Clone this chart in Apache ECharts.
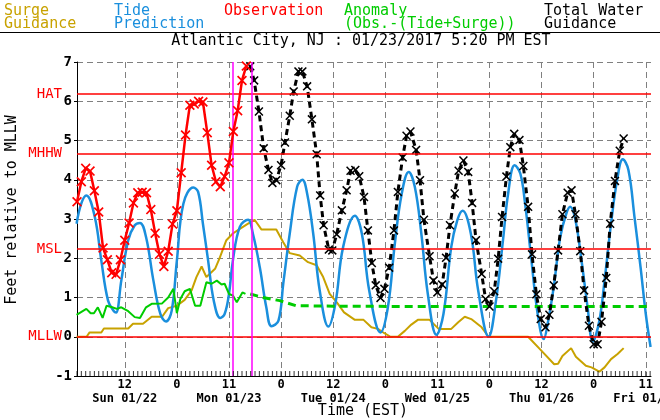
<!DOCTYPE html>
<html><head><meta charset="utf-8">
<script src="https://cdn.jsdelivr.net/npm/echarts@6/dist/echarts.min.js"></script>
<style>html,body{margin:0;padding:0;background:#fff}#c{width:660px;height:420px}</style>
</head><body><div id="c"></div>
<script>
const FONT = '"DejaVu Sans Mono", "Liberation Mono", monospace';

// x axis (hours since Sun 01/22 00:00 EST)
const tickHours = [12, 24, 36, 48, 60, 72, 84, 96, 108, 120, 132];
const tickLabels = ['12', '0', '11', '0', '12', '0', '11', '0', '12', '0', '11'];
const dayHours = [12, 36, 60, 84, 108, 132];
const dayLabels = ['Sun 01/22', 'Mon 01/23', 'Tue 01/24', 'Wed 01/25', 'Thu 01/26', 'Fri 01/27'];
const hourTickMarks = Array.from({length: 133}, (_, i) => i + 1); // hourly minor ticks

// datums
const datumNames = ['HAT', 'MHHW', 'MSL', 'MLLW'];
const datumValues = [6.18, 4.67, 2.23, 0];
const nowLines = [36.9, 41.33];

// Surge guidance
const surgeHours = [0.9,3.2,3.9,6.6,7.2,12.8,13.9,16.2,18.2,20.6,22,24,25.8,27.4,28.5,29.7,30.8,32.8,33.8,35.4,36.9,38.5,40.4,41.9,43.5,46.9,48.5,50,52.3,54.2,56.2,57.7,59.2,60.8,62.5,65,67,68.8,70.3,71.8,73.2,74.9,76.5,78,79.5,82.2,84.3,87.2,88.8,90.3,91.8,94.2,95.8,104.9,108,110.9,111.8,112.8,114.8,115.9,118.2,119.5,121.3,122.5,124,125.5,126.9];
const surgeValues = [0,0,0.11,0.11,0.21,0.21,0.33,0.33,0.51,0.51,0.73,0.79,0.94,1.18,1.52,1.79,1.52,1.73,1.99,2.46,2.63,2.75,2.88,2.98,2.73,2.73,2.41,2.13,2.07,1.9,1.82,1.52,1.09,0.88,0.62,0.43,0.43,0.24,0.2,0.09,0,0,0.15,0.31,0.43,0.43,0.2,0.2,0.37,0.51,0.45,0.24,0,0,-0.36,-0.7,-0.69,-0.49,-0.29,-0.51,-0.74,-0.78,-0.89,-0.78,-0.57,-0.44,-0.29];

// Tide prediction
const tideHours = [0.9,2.0,3.15,5.1,6.6,8.15,9.5,10,11.2,12.8,14.3,15.5,16.9,18.6,20.2,21.5,22.8,24,25.5,27.8,28.9,30,31.2,32.5,34,35,36,36.9,38.5,40.4,41.5,43.1,44.6,45.8,47.4,48.5,50,51.7,52.9,54,55.4,56.9,58.9,60.5,62.3,65,66.6,68.3,70.9,72.6,74.2,75.8,77.4,78.8,80.3,81.8,83.8,85.4,87.2,88.6,89.8,91.7,93.4,95.8,97.5,99.1,100.3,101.8,103.1,104.2,105.5,107.1,108.5,109.4,110.8,112.3,113.7,114.6,115.8,117.2,118.6,119.8,121.3,122.5,124,125.4,126.7,128,129.4,130.8,132,133.1];
const tideValues = [2.88,3.4,3.6,3.05,1.94,0.92,0.65,0.62,1.43,2.46,2.84,2.9,2.54,1.43,0.58,0.39,0.66,1.94,3.39,3.8,3.69,2.88,1.94,0.92,0.48,0.58,1.09,1.94,2.8,2.98,2.63,1.77,0.75,0.27,0.41,1.35,2.63,3.82,4.0,3.65,2.63,1.18,0.26,0.84,2.29,3.08,2.63,1.18,0.11,0.75,2.37,3.65,4.2,3.82,2.63,1.09,0.05,0.58,2.29,2.97,3.21,2.63,1.18,0.0,0.92,2.45,3.65,4.37,4.16,3.39,2.12,0.58,-0.06,0.33,1.27,2.54,3.14,3.31,2.97,1.94,0.75,-0.12,0.41,1.43,2.88,3.99,4.52,4.25,3.05,1.77,0.58,-0.26];

// Observation
const obsHours = [1,2,3,4,5,6,7,8,9,10,11,12,13,14,15,16,17,18,19,20,21,22,23,24,25,26,27,28,29,30,31,32,33,34,35,36,37,38,39,40];
const obsValues = [3.44,3.95,4.29,4.22,3.72,3.18,2.26,1.96,1.63,1.59,1.96,2.46,2.9,3.41,3.67,3.68,3.67,3.24,2.64,2.1,1.79,2.18,2.87,3.21,4.18,5.14,5.9,5.93,6.0,5.98,5.2,4.37,3.95,3.82,4.08,4.43,5.23,5.76,6.53,6.9];

// Anomaly (observed) and anomaly (forecast)
const anomHours = [0.9,3.15,4.15,4.9,5.8,6.9,7.8,9.1,10.2,11.2,12.8,14.3,15.5,16.9,18.2,20.6,22,23.2,24,24.8,25.8,27,28.2,29.4,30.8,32,33.2,34.3,35,36,36.9,37.8,39.1,39.8];
const anomValues = [0.56,0.71,0.6,0.6,0.75,0.48,0.79,0.75,0.71,0.75,0.65,0.5,0.48,0.75,0.84,0.85,1.0,1.22,0.6,0.96,1.16,1.22,0.79,0.79,1.39,1.35,1.43,1.33,1.35,1.09,1.05,0.88,1.13,1.09];
const anomFcstHours = [40.9,43.8,47.7,51.5,60,80,100,120,133.2];
const anomFcstValues = [1.09,1.0,0.92,0.79,0.78,0.77,0.77,0.77,0.77];

// Total water guidance
const twHours = [40.9,41.8,42.9,44,45.1,46,46.9,48,48.9,50,50.9,52,52.9,54,55.1,56.2,57,57.8,59,59.8,60.8,62,63.1,64,65.1,66,67.1,68,68.9,69.8,70.9,71.8,72.9,74,74.9,76,76.9,77.8,79.1,80,80.9,82.2,83.1,84,85.1,86,86.9,88,88.9,90,91.1,92,92.9,94.2,95.1,96,97.1,98,98.9,99.9,100.8,101.7,102.9,103.8,104.9,105.8,106.8,107.8,108.9,109.8,110.8,111.8,112.8,114,114.9,115.8,116.9,117.8,118.9,120,120.9,121.8,122.9,123.8,124.9,126,126.9];
const twValues = [6.89,6.53,5.74,4.8,4.25,3.92,3.99,4.37,4.95,5.63,6.25,6.76,6.76,6.38,5.54,4.65,3.6,2.84,2.22,2.2,2.61,3.22,3.73,4.23,4.25,4.09,3.56,2.71,1.88,1.31,0.99,1.22,1.76,2.71,3.69,4.57,5.12,5.23,4.76,3.99,2.98,2.05,1.43,1.13,1.33,2.01,2.84,3.65,4.23,4.49,4.2,3.41,2.46,1.6,0.96,0.77,1.16,1.99,3.05,4.08,4.83,5.17,5.01,4.35,3.31,2.1,1.08,0.45,0.24,0.56,1.31,2.2,3.12,3.67,3.73,3.12,2.18,1.18,0.28,-0.19,-0.19,0.38,1.5,2.88,3.97,4.74,5.05];

const zip = (a, b) => a.map((x, i) => [x, b[i]]);
const XSYM = 'path://M0,1.2L1.2,0L5,3.8L8.8,0L10,1.2L6.2,5L10,8.8L8.8,10L5,6.2L1.2,10L0,8.8L3.8,5Z';

const GOLD = '#C8A200', BLUE = '#1A8FDD', RED = '#FF0000', GREEN = '#00CC00';
const Y_MIN = -1, Y_MAX = 7;

const chart = echarts.init(document.getElementById('c'), null, {renderer: 'canvas'});

const datumLines = datumNames.map((n, i) => ({
  yAxis: datumValues[i],
  lineStyle: {color: RED, width: 1.5, type: 'solid'},
  label: {show: true, position: 'start', distance: 15, formatter: n, color: RED, fontFamily: FONT, fontSize: 14}
}));
const magentaLines = nowLines.map(h => ({
  xAxis: h,
  lineStyle: {color: '#FF00FF', width: 1.5, type: 'solid'},
  label: {show: false}
}));

chart.setOption({
  animation: false,
  backgroundColor: '#fff',
  grid: {left: 77, right: 9, top: 62, bottom: 44, containLabel: false, outerBoundsMode: 'none'},
  xAxis: {
    type: 'value', min: 1, max: 133.2, interval: 12, position: 'bottom',
    axisLine: {show: true, onZero: false, lineStyle: {color: '#000', width: 1}},
    axisTick: {show: false, customValues: tickHours},
    axisLabel: {
      customValues: tickHours, margin: 2,
      formatter: v => {
        const i = tickHours.indexOf(v);
        const d = dayHours.indexOf(v);
        return '{h|' + tickLabels[i] + '}' + (d >= 0 ? '\n{d|' + dayLabels[d] + '}' : '\n{d| }');
      },
      rich: {
        h: {fontFamily: FONT, fontSize: 12, fontWeight: 'bold', color: '#000', lineHeight: 14},
        d: {fontFamily: FONT, fontSize: 12, fontWeight: 'bold', color: '#000', lineHeight: 14}
      }
    },
    splitLine: {show: true, lineStyle: {color: '#808080', type: [6, 4], width: 1}}
  },
  yAxis: {
    type: 'value', min: Y_MIN, max: Y_MAX, interval: 1,
    axisLine: {show: true, lineStyle: {color: '#000', width: 1}},
    axisTick: {show: true, length: 3, lineStyle: {color: '#000'}},
    axisLabel: {fontFamily: FONT, fontSize: 14, fontWeight: 'bold', color: '#000', margin: 5},
    splitLine: {show: true, lineStyle: {color: '#808080', type: [6, 4], width: 1}}
  },
  graphic: [
    {type: 'line', shape: {x1: 0, y1: 32.5, x2: 660, y2: 32.5}, style: {stroke: '#000', lineWidth: 1}},
    {type: 'text', x: 4, y: 5, style: {text: 'Surge\nGuidance', fill: GOLD, font: '15px ' + FONT, lineHeight: 13, verticalAlign: 'top'}},
    {type: 'text', x: 114, y: 5, style: {text: 'Tide\nPrediction', fill: BLUE, font: '15px ' + FONT, lineHeight: 13, verticalAlign: 'top'}},
    {type: 'text', x: 224, y: 5, style: {text: 'Observation', fill: RED, font: '15px ' + FONT, lineHeight: 13, verticalAlign: 'top'}},
    {type: 'text', x: 344, y: 5, style: {text: 'Anomaly\n(Obs.-(Tide+Surge))', fill: GREEN, font: '15px ' + FONT, lineHeight: 13, verticalAlign: 'top'}},
    {type: 'text', x: 544, y: 5, style: {text: 'Total Water\nGuidance', fill: '#000', font: '15px ' + FONT, lineHeight: 13, verticalAlign: 'top'}},
    {type: 'text', x: 361, y: 41, style: {text: 'Atlantic City, NJ : 01/23/2017 5:20 PM EST', fill: '#000', font: '15px ' + FONT, align: 'center', verticalAlign: 'middle'}},
    {type: 'text', x: 12, y: 210, rotation: Math.PI / 2, style: {text: 'Feet relative to MLLW', fill: '#000', font: '15px ' + FONT, align: 'center', verticalAlign: 'middle'}},
    {type: 'text', x: 363, y: 411, style: {text: 'Time (EST)', fill: '#000', font: '15px ' + FONT, align: 'center', verticalAlign: 'middle'}}
  ],
  series: [
    {
      name: 'ref', type: 'line', data: [], z: 1, silent: true,
      markLine: {silent: true, symbol: ['none', 'none'], animation: false, data: datumLines.concat(magentaLines)}
    },
    {
      name: 'hourTicks', type: 'scatter', z: 6, silent: true, clip: false,
      data: hourTickMarks.map(h => [h, Y_MIN]),
      symbol: 'rect', symbolSize: [1, 5], symbolOffset: [0, -2.5],
      itemStyle: {color: '#000'}
    },
    {name: 'Surge', type: 'line', z: 2, data: zip(surgeHours, surgeValues), showSymbol: false,
     lineStyle: {color: GOLD, width: 2}, itemStyle: {color: GOLD}},
    {name: 'Tide', type: 'line', z: 3, data: zip(tideHours, tideValues), showSymbol: false, smooth: 0.4,
     lineStyle: {color: BLUE, width: 2.5}, itemStyle: {color: BLUE}},
    {name: 'Anomaly', type: 'line', z: 3, data: zip(anomHours, anomValues), showSymbol: false,
     lineStyle: {color: GREEN, width: 2}, itemStyle: {color: GREEN}},
    {name: 'AnomalyFcst', type: 'line', z: 3, data: zip(anomFcstHours, anomFcstValues), showSymbol: false,
     lineStyle: {color: GREEN, width: 3, type: [8, 5]}, itemStyle: {color: GREEN}},
    {name: 'Total', type: 'line', z: 4, data: zip(twHours, twValues), symbol: XSYM, symbolSize: 9, showSymbol: true,
     lineStyle: {color: '#000', width: 3, type: [6, 4]}, itemStyle: {color: '#000'}},
    {name: 'Obs', type: 'line', z: 5, data: zip(obsHours, obsValues), symbol: XSYM, symbolSize: 10, showSymbol: true,
     lineStyle: {color: RED, width: 2.5}, itemStyle: {color: RED}}
  ]
});
</script>
</body></html>
